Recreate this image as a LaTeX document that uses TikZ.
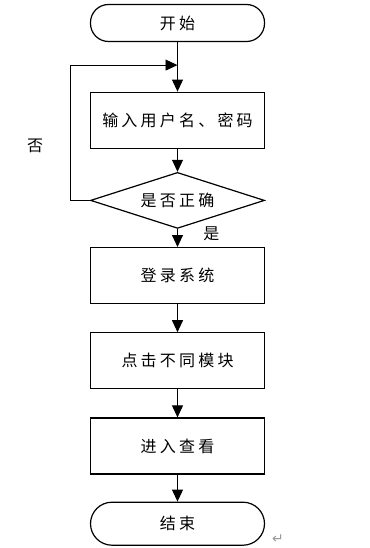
\documentclass[tikz,border=0pt]{standalone}
\usepackage{fontspec}
\setmainfont{Noto Sans CJK SC}[LetterSpace=20]
\newfontfamily\markfont{DejaVu Sans}
\usetikzlibrary{shapes.geometric,arrows.meta,positioning}

\begin{document}
\begin{tikzpicture}[
    x=1pt, y=1pt,
    node distance=24pt,
    every node/.style={font=\fontsize{16}{19}\selectfont},
    terminal/.style={
        rectangle,
        draw,
        rounded corners=18pt,
        minimum width=174pt,
        minimum height=37pt,
        line width=1.2pt
    },
    block/.style={
        rectangle,
        draw,
        minimum width=174pt,
        minimum height=56pt,
        line width=1.2pt
    },
    decision/.style={
        diamond,
        draw,
        aspect=3,
        inner sep=0pt,
        minimum width=174pt,
        minimum height=56pt,
        line width=1.2pt
    },
    arrow/.style={-{Triangle[length=12pt,width=11pt]}, line width=0.9pt}
]
\useasboundingbox (0,0) rectangle (369,-548);

% Nodes
\node[terminal] (start) at (177.5,-23) {开始};
\coordinate[below=23pt of start] (merge);
\node[block, below=49.5pt of start] (input) {输入用户名、密码};
\node[decision, below=23pt of input] (check) {是否正确};
\node[block, below=18pt of check] (login) {登录系统};
\node[block, below=28pt of login] (click) {点击不同模块};
\node[block, below=28pt of click] (view) {进入查看};
\node[terminal, minimum height=43pt, rounded corners=21.5pt,
      below=27pt of view] (stop) {结束};
\node[font=\markfont\fontsize{14}{14}\selectfont, text=gray!80] (mark)
      at (278,-539) {↵};

% Arrows
\draw[arrow] (start) -- (input);
\draw[arrow] (input) -- (check);
\draw[arrow] (check.west) -- ++(-19,0) |- node[pos=0.2, left=24pt]{否} (merge);
\draw[arrow] (check) -- node[pos=0.25, right=22pt]{是} (login);
\draw[arrow] (login) -- (click);
\draw[arrow] (click) -- (view);
\draw[arrow] (view) -- (stop);

\end{tikzpicture}
\end{document}
